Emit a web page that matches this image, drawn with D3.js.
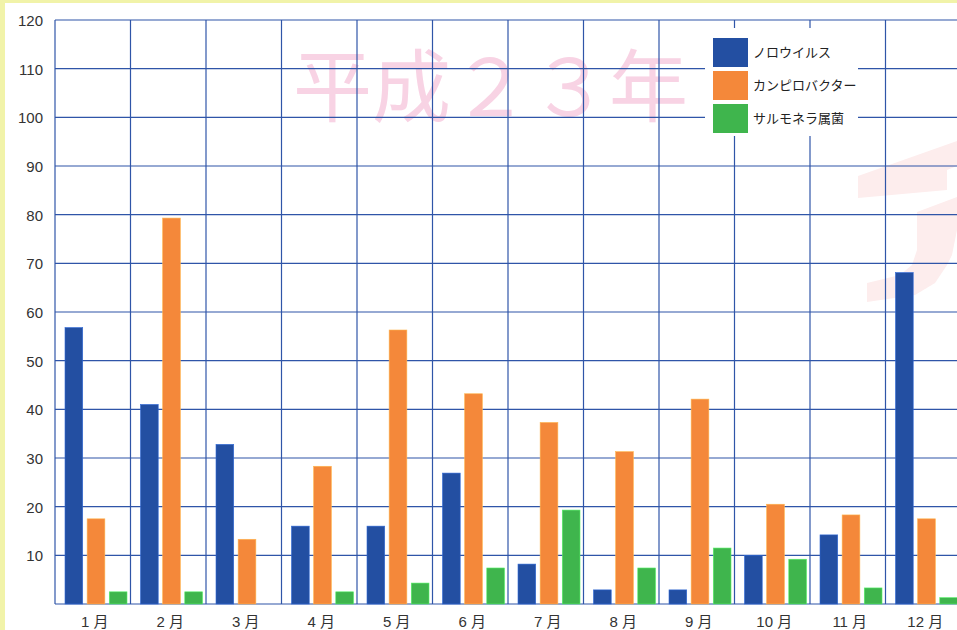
<!DOCTYPE html>
<html>
<head>
<meta charset="utf-8">
<script src="https://cdn.jsdelivr.net/npm/d3@7"></script>
<style>
  body { margin: 0; background: #f1f3a9; }
  svg { display: block; }
  text { font-family: "Liberation Sans", "Noto Sans CJK JP", sans-serif; }
</style>
</head>
<body>
<script>
// data
var months = ["1 月", "2 月", "3 月", "4 月", "5 月", "6 月", "7 月", "8 月", "9 月", "10 月", "11 月", "12 月"];
var seriesNames = ["ノロウイルス", "カンピロバクター", "サルモネラ属菌"];
var norovirus = [56.8, 41, 32.8, 16, 16, 26.9, 8.2, 2.9, 2.9, 10, 14.2, 68.1];
var campylobacter = [17.5, 79.3, 13.3, 28.3, 56.3, 43.2, 37.3, 31.3, 42.1, 20.5, 18.3, 17.5];
var salmonella = [2.5, 2.5, 0, 2.5, 4.3, 7.4, 19.3, 7.4, 11.5, 9.2, 3.3, 1.3];
var yTicks = [10, 20, 30, 40, 50, 60, 70, 80, 90, 100, 110, 120];
var colors = ["#234fa2", "#f4883a", "#3fb54d"];

var W = 957, H = 630;
var plotLeft = 55, plotTop = 20, plotBottom = 604, bandStep = 75.5;

var svg = d3.select("body").append("svg")
    .attr("width", W)
    .attr("height", H);

// white page inside the yellow frame
svg.append("rect")
    .attr("x", 5).attr("y", 3)
    .attr("width", W).attr("height", H)
    .attr("fill", "#fff");

// scales
var x = d3.scaleBand()
    .domain(months)
    .range([plotLeft, plotLeft + bandStep * months.length])
    .padding(0);
var xInner = d3.scaleBand()
    .domain(d3.range(3))
    .range([10, 72])
    .paddingInner(0.2);
var y = d3.scaleLinear()
    .domain([0, 120])
    .range([plotBottom, plotTop]);

// watermarks
svg.append("text")
    .attr("x", 293).attr("y", 116)
    .attr("font-size", 79)
    .attr("fill", "#f8d3e4")
    .style("font-family", "'Noto Sans CJK JP', sans-serif")
    .text("平成２３年");

// faint logo fragment at the right edge (decoration only)
var logoShapes = [
  [[858,176],[957,141],[957,166],[947,170],[947,190],[858,198]],
  [[917,212],[957,197],[957,230],[952,255],[947,265],[935,283],[915,295],[867,302],[867,283],[900,275],[912,265],[917,250]]
];
svg.append("g")
    .selectAll("path")
    .data(logoShapes)
  .enter().append("path")
    .attr("d", function(d) { return d3.line()(d) + "Z"; })
    .attr("fill", "#fdeded");

// gridlines
svg.append("g")
    .selectAll("line")
    .data([0].concat(yTicks))
  .enter().append("line")
    .attr("x1", plotLeft).attr("x2", W)
    .attr("y1", function(d) { return y(d); })
    .attr("y2", function(d) { return y(d); })
    .attr("stroke", "#2f55a8")
    .attr("stroke-width", 1.2);

svg.append("g")
    .selectAll("line")
    .data(months)
  .enter().append("line")
    .attr("x1", function(d) { return x(d); })
    .attr("x2", function(d) { return x(d); })
    .attr("y1", plotTop).attr("y2", plotBottom)
    .attr("stroke", "#2f55a8")
    .attr("stroke-width", 1.2);

// y axis labels
svg.append("g")
    .selectAll("text")
    .data(yTicks)
  .enter().append("text")
    .attr("x", 43)
    .attr("y", function(d) { return y(d) + 6; })
    .attr("text-anchor", "end")
    .attr("font-size", 15)
    .attr("fill", "#333")
    .text(function(d) { return d; });

// x axis labels
svg.append("g")
    .selectAll("text")
    .data(months)
  .enter().append("text")
    .attr("x", function(d) { return x(d) + x.bandwidth() / 2 + 2; })
    .attr("y", 627)
    .attr("text-anchor", "middle")
    .attr("font-size", 15)
    .attr("fill", "#333")
    .text(function(d) { return d; });

// bars
var allSeries = [norovirus, campylobacter, salmonella];
allSeries.forEach(function(values, s) {
  svg.append("g")
      .selectAll("rect")
      .data(values)
    .enter().append("rect")
      .attr("x", function(d, i) { return x(months[i]) + xInner(s); })
      .attr("width", xInner.bandwidth())
      .attr("y", function(d) { return y(d); })
      .attr("height", function(d) { return plotBottom - y(d); })
      .attr("fill", colors[s])
      .attr("stroke", d3.color(colors[s]).brighter(0.8))
      .attr("stroke-width", 0.6)
      .attr("display", function(d) { return d > 0 ? null : "none"; });
});

// legend
var legend = svg.append("g").attr("transform", "translate(705,28)");
legend.append("rect")
    .attr("width", 153).attr("height", 108)
    .attr("fill", "#fff");
seriesNames.forEach(function(name, i) {
  legend.append("rect")
      .attr("x", 8).attr("y", 10 + i * 33)
      .attr("width", 35).attr("height", 29)
      .attr("fill", colors[i]);
  legend.append("text")
      .attr("x", 48).attr("y", 10 + i * 33 + 19)
      .attr("font-size", 13)
      .attr("fill", "#222")
      .style("font-family", "'Noto Sans CJK JP', sans-serif")
      .text(name);
});
</script>
</body>
</html>
